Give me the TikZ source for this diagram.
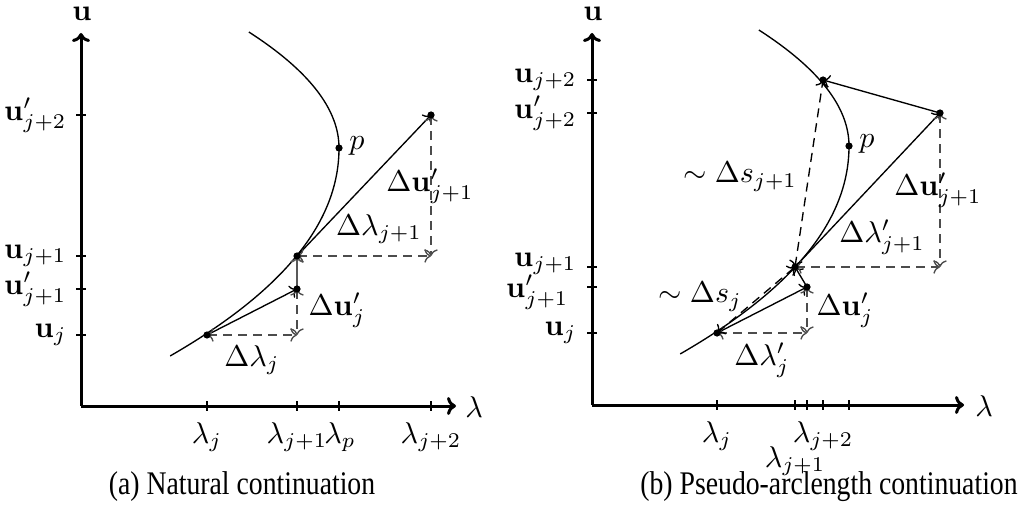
\documentclass[tikz,border=0pt]{standalone}
\usepackage[no-math]{fontspec}
\newfontfamily\capfont{Liberation Serif}
\usetikzlibrary{arrows.meta}
\begin{document}
\begin{tikzpicture}[x=0.3333pt,y=-0.3333pt,
  axis/.style={line width=1pt,-{To[length=3pt,width=6pt]}},
  tickline/.style={line width=0.4pt},
  curveline/.style={line width=0.45pt},
  solidarr/.style={line width=0.45pt,-{To[length=2.2pt,width=4.5pt]}},
  corr/.style={line width=0.6pt,draw=black!65,-{To[length=2.2pt,width=4.5pt]}},
  dasharr/.style={line width=0.45pt,draw=black!70,dash pattern=on 3pt off 2pt,{To[length=2.2pt,width=4.5pt]}-{To[length=2.2pt,width=4.5pt]}},
  arcarr/.style={line width=0.45pt,dash pattern=on 3pt off 2pt,{To[length=2.2pt,width=4.5pt]}-{To[length=2.2pt,width=4.5pt]}},
  dot/.style={fill=black},
  lab/.style={inner sep=1pt},
  captext/.style={inner sep=0pt}]
\useasboundingbox (0,0) rectangle (1025,508);

% ================= Panel (a) =================
\coordinate (Ao) at (81,406);
\coordinate (Ay) at (81,33);
\coordinate (Ax) at (456,406);
\draw[axis] (Ao) -- (Ay);
\draw[axis] (Ao) -- (Ax);
\node[lab] (Au) at (82,14) {$\mathbf{u}$};
\node[lab] (Al) at (474,407) {$\lambda$};

% curve
\draw[curveline] plot[domain=-1.16:0,samples=40,variable=\s] ({339-67*\s*\s},{148+100*\s})
  -- plot[domain=0:2.08,samples=60,variable=\s] ({339-33.63*\s*\s-2.6*\s*\s*\s},{148+100*\s});

% points
\coordinate (Auj) at (207,335);
\coordinate (Aq1) at (297,289);
\coordinate (Auj1) at (297,256);
\coordinate (Aq2) at (431,115);
\coordinate (Ap) at (339,148);
\coordinate (Ah1) at (297,335);
\coordinate (Ah2) at (431,256);

% ticks
\foreach \yy in {115,256,289,335} \draw[tickline] (76,\yy) -- (86,\yy);
\foreach \xx in {207,297,339,431} \draw[tickline] (\xx,401) -- (\xx,411);

\node[lab,anchor=east] (Ayl1) at (70,115) {$\mathbf{u}'_{j+2}$};
\node[lab,anchor=east] (Ayl2) at (70,256) {$\mathbf{u}_{j+1}$};
\node[lab,anchor=east] (Ayl3) at (70,289) {$\mathbf{u}'_{j+1}$};
\node[lab,anchor=east] (Ayl4) at (70,335) {$\mathbf{u}_{j}$};

\node[lab,anchor=north] (Axl1) at (207,419) {$\lambda_j$};
\node[lab,anchor=north] (Axl2) at (297,419) {$\lambda_{j+1}$};
\node[lab,anchor=north] (Axl3) at (340,419) {$\lambda_p$};
\node[lab,anchor=north] (Axl4) at (431,419) {$\lambda_{j+2}$};

% steps
\draw[solidarr] (Auj) -- (Aq1);
\draw[dasharr] (Auj) -- (Ah1);
\draw[dasharr] (Aq1) -- (Ah1);
\draw[corr] (Aq1) -- (Auj1);
\draw[solidarr] (Auj1) -- (Aq2);
\draw[dasharr] (Auj1) -- (Ah2);
\draw[dasharr] (Aq2) -- (Ah2);

\foreach \pp in {Auj,Aq1,Auj1,Aq2,Ap} \fill[dot] (\pp) circle[radius=1.2pt];

\node[lab] (Apl) at (357,146) {$p$};
\node[lab] (Adu2) at (430,186) {$\Delta\mathbf{u}'_{j+1}$};
\node[lab] (Adl2) at (379,229) {$\Delta\lambda_{j+1}$};
\node[lab] (Adu1) at (337,310) {$\Delta\mathbf{u}'_{j}$};
\node[lab] (Adl1) at (252,360) {$\Delta\lambda_{j}$};

\node[captext] (Acap) at (242,487) {\scalebox{0.84}[1]{\capfont\fontsize{11}{13}\selectfont (a) Natural continuation}};

% ================= Panel (b) =================
\coordinate (Bo) at (592,405);
\coordinate (By) at (592,33);
\coordinate (Bx) at (964,405);
\draw[axis] (Bo) -- (By);
\draw[axis] (Bo) -- (Bx);
\node[lab] (Bu) at (593,14) {$\mathbf{u}$};
\node[lab] (Bl) at (984,406) {$\lambda$};

\begin{scope}[shift={(510,-2)}]
\draw[curveline] plot[domain=-1.16:0,samples=40,variable=\s] ({339-67*\s*\s},{148+100*\s})
  -- plot[domain=0:2.08,samples=60,variable=\s] ({339-33.63*\s*\s-2.6*\s*\s*\s},{148+100*\s});
\end{scope}

\coordinate (Buj) at (717,333);
\coordinate (Bq1) at (807,287);
\coordinate (Buj1) at (795,267);
\coordinate (Bq2) at (940,113);
\coordinate (Buj2) at (823,80);
\coordinate (Bp) at (849,146);
\coordinate (Bh1) at (807,333);
\coordinate (Bh2) at (940,267);

\foreach \yy in {80,113,267,287,333} \draw[tickline] (587,\yy) -- (597,\yy);
\foreach \xx in {717,795,807,823,849} \draw[tickline] (\xx,400) -- (\xx,410);

\node[lab,anchor=east] (Byl0) at (580,80) {$\mathbf{u}_{j+2}$};
\node[lab,anchor=east] (Byl1) at (580,113) {$\mathbf{u}'_{j+2}$};
\node[lab,anchor=east] (Byl2) at (580,264) {$\mathbf{u}_{j+1}$};
\node[lab,anchor=east] (Byl3) at (572,292) {$\mathbf{u}'_{j+1}$};
\node[lab,anchor=east] (Byl4) at (580,333) {$\mathbf{u}_{j}$};

\node[lab,anchor=north] (Bxl1) at (717,418) {$\lambda_j$};
\node[lab,anchor=north] (Bxl2) at (795,443) {$\lambda_{j+1}$};
\node[lab,anchor=north] (Bxl3) at (823,418) {$\lambda_{j+2}$};

\draw[solidarr] (Buj) -- (Bq1);
\draw[dasharr] (Buj) -- (Bh1);
\draw[dasharr] (Bq1) -- (Bh1);
\draw[solidarr] (Bq1) -- (Buj1);
\draw[arcarr] (Buj) -- (Buj1);
\draw[solidarr] (Buj1) -- (Bq2);
\draw[dasharr] (Buj1) -- (Bh2);
\draw[dasharr] (Bq2) -- (Bh2);
\draw[solidarr] (Bq2) -- (Buj2);
\draw[arcarr] (Buj1) -- (Buj2);

\foreach \pp in {Buj,Bq1,Buj1,Bq2,Buj2,Bp} \fill[dot] (\pp) circle[radius=1.2pt];

\node[lab] (Bpl) at (867,144) {$p$};
\node[lab] (Bds2) at (740,177) {$\sim\Delta s_{j+1}$};
\node[lab] (Bds1) at (700,297) {$\sim\Delta s_{j}$};
\node[lab] (Bdu2) at (938,190) {$\Delta\mathbf{u}'_{j+1}$};
\node[lab] (Bdl2) at (882,237) {$\Delta\lambda'_{j+1}$};
\node[lab] (Bdu1) at (845,310) {$\Delta\mathbf{u}'_{j}$};
\node[lab] (Bdl1) at (762,360) {$\Delta\lambda'_{j}$};

\node[captext] (Bcap) at (829,487) {\scalebox{0.84}[1]{\capfont\fontsize{11}{13}\selectfont (b) Pseudo-arclength continuation}};
\end{tikzpicture}
\end{document}
